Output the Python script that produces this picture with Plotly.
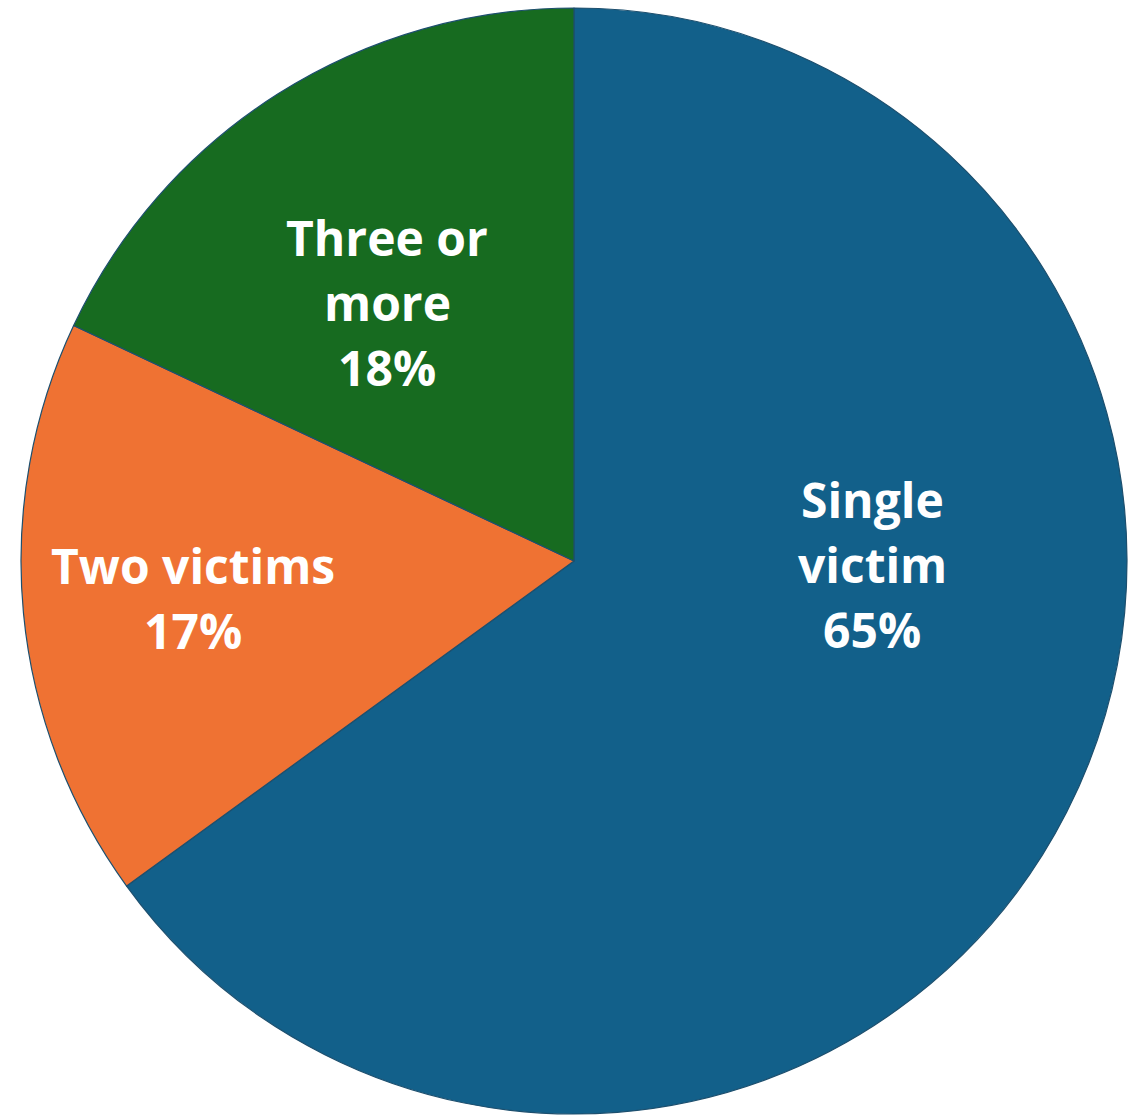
import plotly.graph_objects as go

# ---- data ----
labels = ["Single victim", "Two victims", "Three or more"]
values = [65, 17, 18]
label_lines = [["Single", "victim"], ["Two victims"], ["Three or", "more"]]

# ---- styles / layout ----
colors = ["#12608a", "#ef7233", "#176b20"]
W, H = 1130, 1117
cx, cy, R = 574, 561, 553
# label block anchor: (center x px, first baseline px)
label_anchor = [(872, 517), (193, 583), (387, 255)]
line_gap = 65
FS = 48
FONT = "Open Sans"

fig = go.Figure()
fig.add_trace(go.Pie(
    labels=labels,
    values=values,
    sort=False,
    direction="clockwise",
    rotation=0,
    textinfo="none",
    hoverinfo="label+percent",
    marker=dict(colors=colors, line=dict(color="#1d4f6e", width=1.2)),
    domain=dict(x=[(cx - R) / W, (cx + R) / W],
                y=[1 - (cy + R) / H, 1 - (cy - R) / H]),
    showlegend=False,
))

total = sum(values)
annotations = []
for (ax, ay), lines, v in zip(label_anchor, label_lines, values):
    all_lines = lines + [f"{round(v / total * 100)}%"]
    for i, t in enumerate(all_lines):
        base = ay + i * line_gap
        ymid = base - 0.36 * FS
        annotations.append(dict(
            x=ax / W, y=1 - ymid / H, xref="paper", yref="paper",
            xanchor="center", yanchor="middle", showarrow=False,
            text=f"<b>{t}</b>",
            font=dict(family=FONT, size=FS, color="white"),
        ))

fig.update_layout(
    width=W, height=H,
    margin=dict(l=0, r=0, t=0, b=0),
    paper_bgcolor="white", plot_bgcolor="white",
    annotations=annotations,
)

fig.write_html(
    "out.html",
    config={"displayModeBar": False},
    post_script="document.body.style.margin='0';document.body.style.overflow='hidden';",
)
